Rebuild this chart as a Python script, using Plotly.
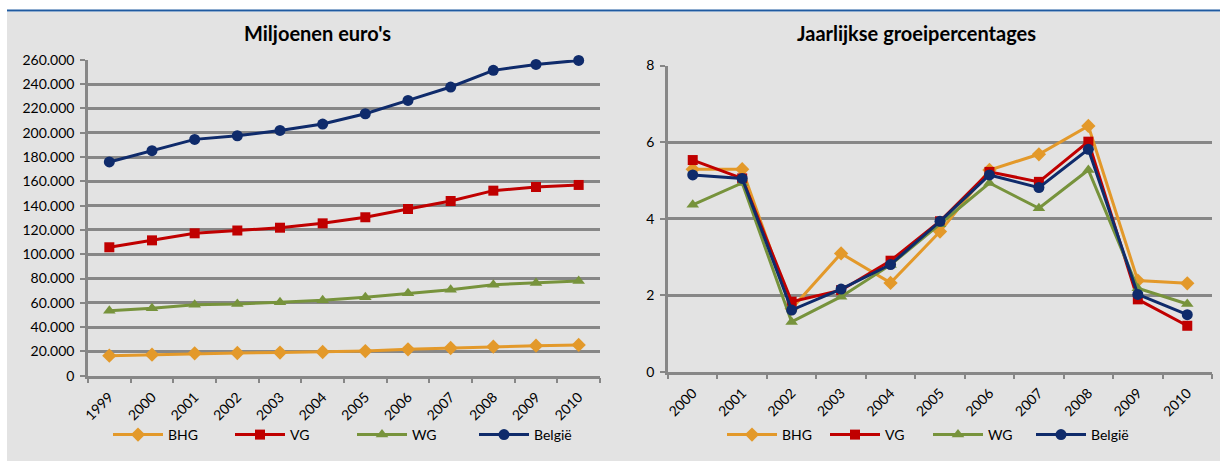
import plotly.graph_objects as go

years_left = ["1999", "2000", "2001", "2002", "2003", "2004", "2005", "2006", "2007", "2008", "2009", "2010"]
bhg_abs = [16500, 17300, 18400, 18700, 19000, 19500, 20300, 21700, 22800, 23900, 24700, 25300]
vg_abs = [105700, 111400, 117200, 119500, 121800, 125400, 130400, 137200, 143800, 152300, 155300, 157000]
wg_abs = [53500, 55500, 58400, 59000, 60400, 62000, 64500, 67800, 70800, 74900, 76300, 77900]
be_abs = [175900, 185200, 194500, 197500, 201900, 207100, 215600, 226600, 237600, 251300, 256200, 259500]

years_right = ["2000", "2001", "2002", "2003", "2004", "2005", "2006", "2007", "2008", "2009", "2010"]
bhg_pct = [5.29, 5.29, 1.65, 3.09, 2.32, 3.66, 5.27, 5.68, 6.42, 2.38, 2.31]
vg_pct = [5.53, 5.05, 1.83, 2.13, 2.90, 3.93, 5.22, 4.96, 6.01, 1.89, 1.20]
wg_pct = [4.36, 4.93, 1.30, 1.96, 2.79, 3.85, 4.93, 4.27, 5.27, 2.18, 1.77]
be_pct = [5.14, 5.05, 1.61, 2.16, 2.80, 3.93, 5.14, 4.81, 5.81, 2.02, 1.49]

names = ["BHG", "VG", "WG", "België"]
colors = ["#E3992A", "#C00000", "#77933C", "#0F2B6B"]
symbols = ["diamond", "square", "triangle-up", "circle"]
msizes = [11, 10, 11, 11]

FONT = "Lato"
GRID = "#878787"

fig = go.Figure()

for name, col, sym, ms, ys in zip(names, colors, symbols, msizes, [bhg_abs, vg_abs, wg_abs, be_abs]):
    fig.add_trace(go.Scatter(x=years_left, y=ys, name=name, mode="lines+markers",
                             line=dict(color=col, width=3), marker=dict(symbol=sym, size=ms, color=col),
                             xaxis="x", yaxis="y", legend="legend", cliponaxis=False))
for name, col, sym, ms, ys in zip(names, colors, symbols, msizes, [bhg_pct, vg_pct, wg_pct, be_pct]):
    fig.add_trace(go.Scatter(x=years_right, y=ys, name=name, mode="lines+markers",
                             line=dict(color=col, width=3), marker=dict(symbol=sym, size=ms, color=col),
                             xaxis="x2", yaxis="y2", legend="legend2", cliponaxis=False))

axis_common = dict(showline=True, linecolor=GRID, linewidth=2.5, ticks="outside", tickcolor=GRID,
                   tickwidth=2, ticklen=5, automargin=False,
                   tickfont=dict(family=FONT, size=14, color="#000000"))
xaxis_extra = dict(type="category", tickson="boundaries", tickangle=-45, showgrid=False,
                   ticklabelstandoff=5)
yaxis_extra = dict(showgrid=True, gridcolor=GRID, gridwidth=2.5, zeroline=False, ticklabelstandoff=3)

fig.update_layout(
    width=1220, height=461,
    margin=dict(l=0, r=0, t=0, b=0, autoexpand=False),
    paper_bgcolor="#FFFFFF",
    plot_bgcolor="#FFFFFF",
    separators=",.",
    font=dict(family=FONT, color="#000000"),
    xaxis=dict(domain=[88 / 1220, 600 / 1220], range=[-0.5, 11.5], anchor="y", **xaxis_extra, **axis_common),
    yaxis=dict(domain=[1 - 375.7 / 461, 1 - 59.8 / 461], range=[0, 260000], dtick=20000,
               tickformat=",d", anchor="x", **yaxis_extra, **axis_common),
    xaxis2=dict(domain=[668 / 1220, 1212 / 1220], range=[-0.5, 10.5], anchor="y2", **xaxis_extra, **axis_common),
    yaxis2=dict(domain=[1 - 371.7 / 461, 1 - 65.5 / 461], range=[0, 8], dtick=2,
                anchor="x2", **yaxis_extra, **axis_common),
    legend=dict(orientation="h", x=108 / 1220, y=1 - 435 / 461, xanchor="left", yanchor="middle",
                bgcolor="rgba(0,0,0,0)", font=dict(family=FONT, size=14), itemwidth=50,
                entrywidth=57, entrywidthmode="pixels", itemclick=False),
    legend2=dict(orientation="h", x=722 / 1220, y=1 - 435 / 461, xanchor="left", yanchor="middle",
                 bgcolor="rgba(0,0,0,0)", font=dict(family=FONT, size=14), itemwidth=50,
                 entrywidth=38, entrywidthmode="pixels", itemclick=False),
    shapes=[
        dict(type="rect", xref="paper", yref="paper", x0=7 / 1220, x1=1, y0=0, y1=1 - 12 / 461,
             fillcolor="#E3E3E3", line=dict(width=0), layer="below"),
        dict(type="line", xref="paper", yref="paper", x0=7 / 1220, x1=1, y0=1 - 10.5 / 461, y1=1 - 10.5 / 461,
             line=dict(color="#1F5AA0", width=2)),
    ],
    annotations=[
        dict(text="<b>Miljoenen euro's</b>", xref="paper", yref="paper", x=317 / 1220, y=1 - 33 / 461,
             showarrow=False, font=dict(family=FONT, size=20, color="#000000"), xanchor="center", yanchor="middle"),
        dict(text="<b>Jaarlijkse groeipercentages</b>", xref="paper", yref="paper", x=916 / 1220, y=1 - 33 / 461,
             showarrow=False, font=dict(family=FONT, size=20, color="#000000"), xanchor="center", yanchor="middle"),
    ],
)

fig.write_html("out.html", config={"displayModeBar": False},
               post_script="document.body.style.margin='0px';")
